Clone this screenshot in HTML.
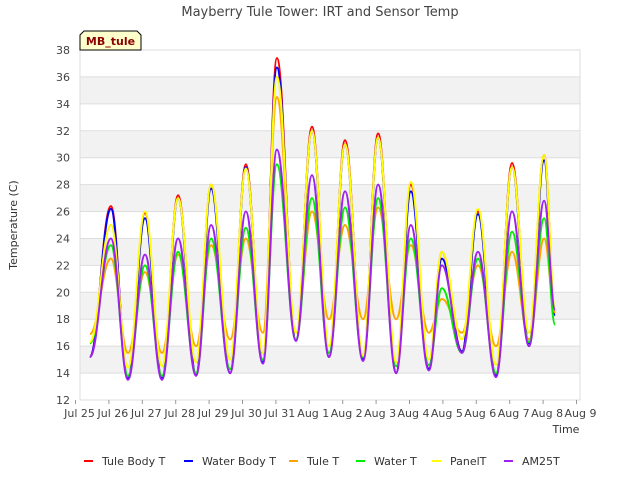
<!DOCTYPE html>
<html><head><meta charset="utf-8"><style>
body{margin:0;background:#fff;font-family:"Liberation Sans","DejaVu Sans",sans-serif}
svg text{font-family:"DejaVu Sans","Liberation Sans",sans-serif}
</style></head><body>
<svg id="chart" width="640" height="480" viewBox="0 0 640 480">
<text x="320" y="16" text-anchor="middle" font-size="13" fill="#444">Mayberry Tule Tower: IRT and Sensor Temp</text>
<g id="bands"></g><g id="grid"></g>
<rect x="80" y="50" width="500" height="350" fill="none" stroke="#ddd"/>
<g id="axes"></g><g id="series"></g>
<text transform="translate(17,225) rotate(-90)" text-anchor="middle" font-size="11" fill="#333">Temperature (C)</text>
<text x="566" y="433" text-anchor="middle" font-size="11" fill="#333">Time</text>
<g>
<path d="M84,31 L137,31 L141,35 L141,50 L80,50 L80,35 Z" fill="#ffffcc" stroke="#000" stroke-width="1"/>
<text x="110.5" y="45" text-anchor="middle" font-size="11" font-weight="bold" fill="#8b0000">MB_tule</text></g>
<g id="legend"></g>
</svg>
<script>
const yTicks=[12,14,16,18,20,22,24,26,28,30,32,34,36,38];
const xTickLabels=["Jul 25","Jul 26","Jul 27","Jul 28","Jul 29","Jul 30","Jul 31","Aug 1","Aug 2","Aug 3","Aug 4","Aug 5","Aug 6","Aug 7","Aug 8","Aug 9"];
const times=[0.43,1.06,1.57,2.08,2.59,3.07,3.61,4.06,4.63,5.1,5.61,6.03,6.6,7.08,7.59,8.07,8.61,9.06,9.6,10.04,10.58,10.97,11.57,12.05,12.59,13.07,13.58,14.03,14.36];
const tuleBody=[15.2,26.4,13.6,25.9,13.6,27.2,13.9,28,14,29.5,14.8,37.4,16.4,32.3,15.2,31.3,15,31.8,14,28,14.3,23,15.6,26,13.8,29.6,16.2,30.2,18.5];
const waterBody=[15.2,26.2,13.6,25.5,13.6,27,13.9,27.7,14,29.3,14.8,36.7,16.4,32,15.2,31,15,31.5,14,27.5,14.3,22.5,15.6,25.8,13.8,29.3,16.2,29.8,18.3];
const tuleT=[16.9,22.5,15.5,21.5,15.5,22.8,16,23.5,16.5,24,17,34.5,17,26,18,25,18,26.3,18,23.5,17,19.5,17,22,16,23,16.5,24,18.5];
const waterT=[16.2,23.5,13.8,22,13.8,23,14,24,14.3,24.8,15,29.5,16.5,27,15.5,26.3,15.2,27,14.5,24,14.6,20.3,15.5,22.5,14,24.5,16.3,25.5,17.6];
const panelT=[16.3,25,14.4,26,14.5,27,14.8,28,15,29.2,15.5,36,17,32,16,31,15.3,31.5,14.8,28.2,15,23,16.5,26.2,14.6,29.3,17,30.2,18.9];
const am25T=[15.2,24,13.5,22.8,13.5,24,13.8,25,14,26,14.7,30.6,16.4,28.7,15.2,27.5,14.9,28,14,25,14.2,22,15.5,23,13.7,26,16,26.8,18.7];
const seriesNames=["Tule Body T","Water Body T","Tule T","Water T","PanelT","AM25T"];
const seriesColors=["#ff0000","#0000ff","#ffa500","#00ee00","#ffff00","#a020f0"];
const seriesData=[tuleBody,waterBody,tuleT,waterT,panelT,am25T];
const NS="http://www.w3.org/2000/svg";
const X=d=>75.5+33.4*d, Y=v=>400-(v-12)*350/26;
function mk(tag,attrs,parent){const e=document.createElementNS(NS,tag);for(const k in attrs)e.setAttribute(k,attrs[k]);parent.appendChild(e);return e;}
const bands=document.getElementById('bands'),grid=document.getElementById('grid'),axes=document.getElementById('axes');
for(let v=14;v<36;v+=4){const b=mk('rect',{x:80,y:Y(v+2),width:500,height:Y(v)-Y(v+2),fill:'#f2f2f2'},bands);

}
yTicks.forEach(v=>{const l=mk('line',{x1:80,x2:580,y1:Y(v),y2:Y(v),stroke:'#dddddd'},grid);


const t=mk('text',{x:70,y:Y(v)+4,'text-anchor':'end','font-size':11,fill:'#444'},axes);t.textContent=v;

});
xTickLabels.forEach((s,i)=>{const l=mk('line',{x1:X(i),x2:X(i),y1:400,y2:404,stroke:'#999'},axes);


const t=mk('text',{x:X(i)+4,y:417,'text-anchor':'middle','font-size':11,fill:'#444'},axes);t.textContent=s;

});
const sg=document.getElementById('series');
seriesData.forEach((vals,si)=>{let d='M'+X(times[0])+','+Y(vals[0]);
for(let i=1;i<times.length;i++){const x0=X(times[i-1]),y0=Y(vals[i-1]),x1=X(times[i]),y1=Y(vals[i]),dx=(x1-x0)*0.4;
d+=' C'+(x0+dx)+','+y0+' '+(x1-dx)+','+y1+' '+x1+','+y1;}
const p=mk('path',{d:d,fill:'none',stroke:seriesColors[si],'stroke-width':2},sg);

});
const lg=document.getElementById('legend');const lx=[84,184,289,356,432,504];
seriesNames.forEach((n,i)=>{const g=mk('g',{},lg);


mk('line',{x1:lx[i],x2:lx[i]+9,y1:461,y2:461,stroke:seriesColors[i],'stroke-width':2},g);
const t=mk('text',{x:lx[i]+18,y:465,'font-size':11,fill:'#333'},g);t.textContent=n;});
</script>
</body></html>
